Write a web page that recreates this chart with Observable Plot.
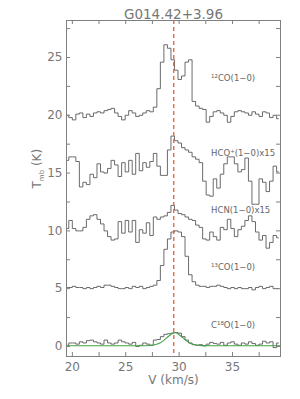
<!DOCTYPE html>
<html>
<head>
<meta charset="utf-8">
<script src="https://cdn.jsdelivr.net/npm/d3@7"></script>
<script src="https://cdn.jsdelivr.net/npm/@observablehq/plot@0.6"></script>
<style>
  html, body { margin: 0; padding: 0; background: white; }
</style>
</head>
<body>
<div id="chart"></div>
<script>
const title = "G014.42+3.96";
const velocity = [19.50, 19.83, 20.16, 20.49, 20.82, 21.15, 21.48, 21.81, 22.14, 22.47,
  22.80, 23.13, 23.46, 23.79, 24.12, 24.45, 24.78, 25.11, 25.44, 25.77,
  26.10, 26.43, 26.76, 27.09, 27.42, 27.75, 28.08, 28.41, 28.74, 29.07,
  29.40, 29.73, 30.06, 30.39, 30.72, 31.05, 31.38, 31.71, 32.04, 32.37,
  32.70, 33.03, 33.36, 33.69, 34.02, 34.35, 34.68, 35.01, 35.34, 35.67,
  36.00, 36.33, 36.66, 36.99, 37.32, 37.65, 37.98, 38.31, 38.64, 38.97, 39.30];

const co12 = [20.0, 19.8, 19.6, 20.1, 20.2, 19.8, 20.1, 19.9, 20.2, 20.3,
  20.2, 20.4, 20.5, 20.6, 20.2, 19.9, 19.6, 20.0, 20.4, 20.2,
  19.9, 20.0, 20.2, 20.4, 20.3, 20.7, 22.3, 24.6, 26.1, 25.8,
  24.8, 23.9, 23.1, 23.4, 24.6, 24.8, 21.2, 20.8, 20.6, 20.5,
  19.4, 19.9, 20.3, 20.4, 20.2, 20.0, 19.4, 19.9, 20.3, 20.4,
  20.3, 20.2, 20.0, 20.3, 20.1, 19.9, 20.3, 20.2, 19.8, 20.0, 19.7];

const hcop = [16.1, 16.4, 16.4, 16.0, 13.8, 14.2, 14.0, 14.9, 14.6, 15.8,
  15.1, 15.0, 15.4, 16.1, 15.7, 14.7, 15.9, 15.1, 16.1, 14.9,
  16.7, 15.2, 15.9, 15.5, 16.0, 16.7, 15.6, 14.8, 14.8, 17.0,
  18.2, 17.8, 17.6, 17.2, 17.0, 16.8, 16.4, 16.2, 15.9, 14.3,
  13.1, 13.0, 14.5, 13.7, 14.9, 15.8, 16.4, 16.4, 15.8, 15.1,
  15.3, 16.3, 14.3, 12.3, 12.3, 14.5, 14.2, 13.4, 14.3, 15.6, 15.1];

const hcn = [10.2, 10.9, 10.2, 10.0, 10.0, 10.3, 11.0, 11.3, 11.4, 11.0,
  10.6, 10.0, 9.5, 9.2, 9.3, 10.8, 9.8, 10.9, 9.9, 10.9,
  9.0, 10.1, 9.8, 10.7, 9.6, 11.2, 11.0, 11.2, 11.3, 11.6,
  12.2, 11.8, 11.5, 11.4, 11.2, 11.0, 10.9, 10.5, 10.3, 9.3,
  9.2, 9.9, 9.5, 9.2, 10.3, 10.1, 11.0, 10.2, 9.5, 10.1,
  10.4, 10.9, 11.3, 10.8, 9.9, 9.2, 9.6, 8.5, 9.0, 9.6, 9.4];

const co13 = [5.1, 5.1, 5.2, 5.1, 5.1, 5.0, 5.1, 5.0, 5.1, 5.2,
  5.1, 5.3, 5.3, 5.2, 5.1, 5.0, 5.0, 5.1, 5.0, 5.2,
  5.1, 5.2, 5.0, 5.1, 5.2, 5.3, 5.7, 7.0, 8.4, 9.3,
  9.9, 10.0, 9.9, 9.5, 7.8, 6.2, 5.6, 5.3, 5.2, 5.2,
  5.1, 5.2, 5.2, 5.3, 5.2, 5.1, 5.0, 5.1, 5.0, 5.1,
  5.0, 5.0, 5.1, 4.9, 5.1, 5.2, 5.0, 5.1, 5.2, 5.0, 5.0];

const c18o = [0.1, 0.3, 0.3, 0.2, 0.4, 0.3, 0.5, 0.55, 0.4, 0.3,
  0.2, 0.55, 0.3, 0.2, 0.3, 0.55, 0.4, 0.3, 0.2, 0.35,
  0.0, 0.1, 0.3, 0.2, 0.1, 0.55, 0.6, 0.85, 1.05, 1.1,
  1.15, 1.2, 1.15, 0.85, 0.55, 0.3, 0.15, 0.1, 0.15, 0.05,
  0.2, 0.35, 0.25, 0.2, 0.35, 0.1, 0.3, 0.4, 0.2, 0.1,
  0.3, 0.2, 0.4, 0.25, 0.1, 0.2, 0.45, 0.3, 0.4, -0.1, 0.3];

// Gaussian fit to C18O
const fitV = [19.45, 26.5, 27.2, 27.6, 28.1, 28.6, 29.1, 29.6, 30.1, 30.6, 31.1, 31.6, 32.2, 33.0, 39.5];
const fitT = [0.06, 0.06, 0.08, 0.12, 0.25, 0.55, 0.95, 1.2, 0.95, 0.55, 0.25, 0.12, 0.07, 0.06, 0.06];

const lineCenter = [29.5];

const labelNames = ["\u00b9\u00b2CO(1\u22120)", "HCO\u207a(1\u22120)x15", "HCN(1\u22120)x15", "\u00b9\u00b3CO(1\u22120)", "C\u00b9\u2078O(1\u22120)"];
const labelV = [33.0, 33.0, 33.0, 33.0, 33.0];
const labelT = [23.2, 16.7, 11.8, 6.85, 1.8];

const xMajor = [20, 25, 30, 35];
const xMinor = [22.5, 27.5, 32.5, 37.5];
const yMajor = [0, 5, 10, 15, 20, 25];
const yMinor = [2.5, 7.5, 12.5, 17.5, 22.5, 27.5];

const W = 300, H = 399;
const mL = 66, mR = 20, mT = 20, mB = 43;
const fw = W - mL - mR, fh = H - mT - mB;
const tk = 4;
const axisColor = "#808080";
const lineColor = "#5a5a5a";
const textColor = "#777";

const allX = xMajor.concat(xMinor);
const allY = yMajor.concat(yMinor);

const spectra = [co12, hcop, hcn, co13, c18o];

const plot = Plot.plot({
  width: W,
  height: H,
  marginLeft: mL,
  marginRight: mR,
  marginTop: mT,
  marginBottom: mB,
  style: { fontFamily: "DejaVu Sans, sans-serif", fontSize: "12px", color: textColor, background: "white" },
  x: { domain: [19.45, 39.5] },
  y: { domain: [-0.87, 28.2] },
  marks: [
    ...spectra.map(s => Plot.line(s, { x: velocity, y: s, curve: "step", stroke: lineColor, strokeWidth: 0.9 })),
    Plot.line(fitT, { x: fitV, y: fitT, curve: "monotone-x", stroke: "#45a045", strokeWidth: 1.1 }),
    Plot.ruleX(lineCenter, { stroke: "#d9643a", strokeWidth: 1.3, strokeDasharray: "4,3" }),
    Plot.text(labelNames, { x: labelV, y: labelT, text: d => d, textAnchor: "start", fontSize: 8.5, fill: "#666" }),
    Plot.frame({ stroke: axisColor }),
    Plot.tickX(allX, { x: d => d, insetTop: fh - tk, stroke: axisColor }),
    Plot.tickX(allX, { x: d => d, insetBottom: fh - tk, stroke: axisColor }),
    Plot.tickY(allY, { y: d => d, insetRight: fw - tk, stroke: axisColor }),
    Plot.tickY(allY, { y: d => d, insetLeft: fw - tk, stroke: axisColor }),
    Plot.axisX(xMajor, { anchor: "bottom", tickSize: 0, tickPadding: 6, label: null, fontSize: 12, fill: textColor }),
    Plot.axisY(yMajor, { anchor: "left", tickSize: 0, tickPadding: 4, label: null, fontSize: 12, fill: textColor }),
    Plot.text([title], { frameAnchor: "top", dy: -11, fontSize: 13.5, fill: textColor }),
    Plot.text(["V (km/s)"], { frameAnchor: "bottom", dy: 27, fontSize: 12, fill: textColor }),
    Plot.text(["T (K)"], { frameAnchor: "left", dx: -29, rotate: -90, fontSize: 12, fill: textColor })
  ]
});

document.getElementById("chart").appendChild(plot);

// add the "mb" subscript to the y label
const yl = Array.from(plot.querySelectorAll("text")).find(t => t.textContent === "T (K)");
if (yl) {
  while (yl.firstChild) yl.removeChild(yl.firstChild);
  const ns = "http://www.w3.org/2000/svg";
  const t1 = document.createElementNS(ns, "tspan"); t1.textContent = "T";
  const t2 = document.createElementNS(ns, "tspan"); t2.textContent = "mb"; t2.setAttribute("font-size", "7"); t2.setAttribute("dy", "3");
  const t3 = document.createElementNS(ns, "tspan"); t3.textContent = " (K)"; t3.setAttribute("dy", "-3");
  yl.appendChild(t1); yl.appendChild(t2); yl.appendChild(t3);
}
</script>
</body>
</html>
